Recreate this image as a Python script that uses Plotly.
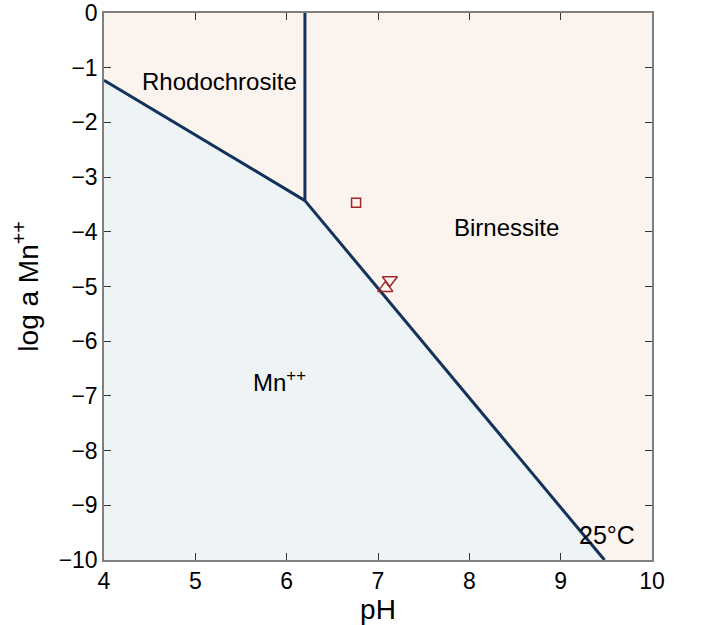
import plotly.graph_objects as go

# Boundary lines (pH, log a Mn++)
rhodo_mn_x = [4.0, 6.2]
rhodo_mn_y = [-1.23, -3.43]
rhodo_birn_x = [6.2, 6.2]
rhodo_birn_y = [-3.43, 0.0]
birn_mn_x = [6.2, 9.48]
birn_mn_y = [-3.43, -10.0]

# Data points
sq_x, sq_y = [6.76], [-3.47]
dn_x, dn_y = [7.13], [-4.88]
up_x, up_y = [7.08], [-5.03]

labels = ["Rhodochrosite", "Birnessite", "Mn<sup>++</sup>", "25°C"]
label_x = [5.27, 8.41, 5.92, 9.51]
label_y = [-1.26, -3.93, -6.72, -9.54]
label_size = [24, 24, 24, 25]

x_ticks = [4, 5, 6, 7, 8, 9, 10]
y_ticks = [0, -1, -2, -3, -4, -5, -6, -7, -8, -9, -10]
y_tick_text = ["0" if v == 0 else "\u2212" + str(abs(v)) for v in y_ticks]

FONT = "Liberation Sans, Arial, sans-serif"
peach = "#FBF3EE"
blue = "#EEF3F6"
line_col = "#13325B"
mark_col = "#A3262A"

fig = go.Figure()

# background (stable fields)
fig.add_trace(go.Scatter(x=[4, 10, 10, 4, 4], y=[0, 0, -10, -10, 0], fill="toself",
                         fillcolor=peach, line=dict(width=0), mode="lines", hoverinfo="skip",
                         showlegend=False))
# Mn++ field
fig.add_trace(go.Scatter(x=[4.0] + rhodo_mn_x[1:] + birn_mn_x[1:] + [4.0, 4.0],
                         y=[rhodo_mn_y[0]] + rhodo_mn_y[1:] + birn_mn_y[1:] + [-10.0, rhodo_mn_y[0]],
                         fill="toself", fillcolor=blue, line=dict(width=0), mode="lines",
                         hoverinfo="skip", showlegend=False))

for xs, ys in [(rhodo_mn_x, rhodo_mn_y), (rhodo_birn_x, rhodo_birn_y), (birn_mn_x, birn_mn_y)]:
    fig.add_trace(go.Scatter(x=xs, y=ys, mode="lines", line=dict(color=line_col, width=3),
                             showlegend=False))

for xs, ys, sym, sz in [(sq_x, sq_y, "square-open", 9), (dn_x, dn_y, "triangle-down-open", 13),
                        (up_x, up_y, "triangle-up-open", 13)]:
    fig.add_trace(go.Scatter(x=xs, y=ys, mode="markers",
                             marker=dict(symbol=sym, size=sz,
                                         color=mark_col, line=dict(width=1.5, color=mark_col)),
                             showlegend=False))

for t, x, y, s in zip(labels, label_x, label_y, label_size):
    fig.add_annotation(x=x, y=y, text=t, showarrow=False,
                       font=dict(size=s, color="black", family=FONT))

axis_common = dict(showgrid=False, zeroline=False, showline=True, linecolor="#7F7F7F",
                   linewidth=1.5, mirror="ticks", ticks="inside", ticklen=7,
                   tickcolor="#333333", tickwidth=1, automargin=False,
                   tickfont=dict(size=23, color="black", family=FONT))

fig.update_xaxes(range=[4, 10], tickvals=x_ticks, ticktext=[str(v) for v in x_ticks],
                 title=dict(text="pH", font=dict(size=28, color="black", family=FONT),
                            standoff=4),
                 **axis_common)
fig.update_yaxes(range=[-10, 0], tickvals=y_ticks, ticktext=y_tick_text,
                 title=dict(text="log a Mn<sup>++</sup>",
                            font=dict(size=28, color="black", family=FONT),
                            standoff=12),
                 **axis_common)

fig.update_layout(width=705, height=625, margin=dict(l=104, r=53, t=13, b=65),
                  paper_bgcolor="white", plot_bgcolor="white", showlegend=False)

fig.write_html("out.html")
